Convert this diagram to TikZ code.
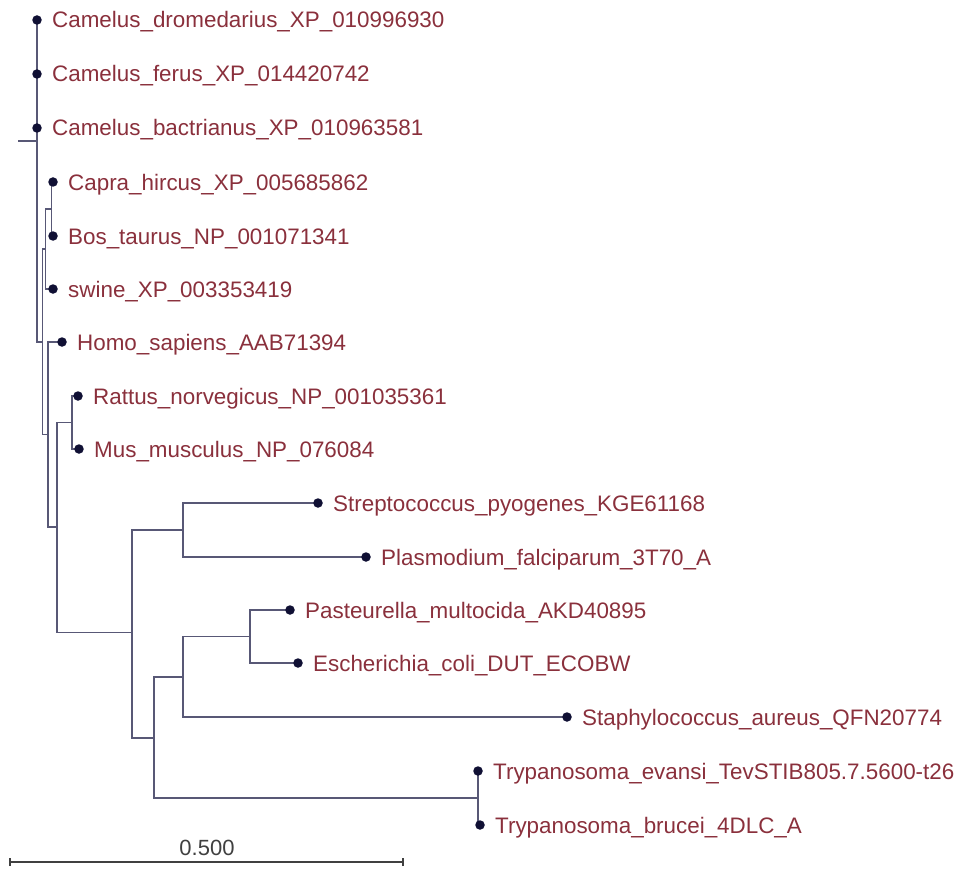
\documentclass[tikz,border=0pt]{standalone}
\usepackage{fontspec}
\setmainfont{Liberation Sans}
\definecolor{branch}{RGB}{88,88,118}
\definecolor{dotc}{RGB}{16,16,52}
\definecolor{lab}{RGB}{138,48,60}
\definecolor{scalec}{RGB}{64,64,64}
\tikzset{
  br/.style={draw=branch, line width=1.8pt},
  leaf/.style={circle, fill=dotc, inner sep=0pt, minimum size=9.5pt},
  lbl/.style={text=lab, anchor=base west, inner sep=0pt, font=\fontsize{22.4}{27}\selectfont},
}
\begin{document}
\begin{tikzpicture}[x=1pt,y=-1pt]
\useasboundingbox (0,0) rectangle (962,872);
% internal nodes
\coordinate (rootstub) at (18,141);
\coordinate (root) at (37,141);
\coordinate (Q) at (42.5,342);
\coordinate (S) at (45.5,249);
\coordinate (CB) at (51.5,209);
\coordinate (P48) at (48,434.5);
\coordinate (P57) at (57,527);
\coordinate (RM) at (72,422.5);
\coordinate (Bac) at (132,632.5);
\coordinate (SP) at (183,530);
\coordinate (N154) at (154,738);
\coordinate (N183) at (183,677);
\coordinate (PE) at (250,636.5);
\coordinate (Tr) at (478,798);
% leaves
\coordinate (l1) at (37,20);
\coordinate (l2) at (37,74);
\coordinate (l3) at (37,128);
\coordinate (l4) at (53,182);
\coordinate (l5) at (53,236);
\coordinate (l6) at (53,289);
\coordinate (l7) at (62,342);
\coordinate (l8) at (78,396);
\coordinate (l9) at (79,449);
\coordinate (l10) at (318,503);
\coordinate (l11) at (366,557);
\coordinate (l12) at (290,610);
\coordinate (l13) at (298,663);
\coordinate (l14) at (567,717);
\coordinate (l15) at (478,771);
\coordinate (l16) at (480,825);
% branches
\draw[br] (rootstub) -- (root);
\draw[br] (root) |- (l1);
\draw[br] (root) |- (Q);
\draw[br] (Q) |- (S);
\draw[br] (Q) |- (P48);
\draw[br] (S) |- (CB);
\draw[br] (S) |- (l6);
\draw[br] (CB) |- (l4);
\draw[br] (CB) |- (l5);
\draw[br] (P48) |- (l7);
\draw[br] (P48) |- (P57);
\draw[br] (P57) |- (RM);
\draw[br] (P57) |- (Bac);
\draw[br] (RM) |- (l8);
\draw[br] (RM) |- (l9);
\draw[br] (Bac) |- (SP);
\draw[br] (Bac) |- (N154);
\draw[br] (SP) |- (l10);
\draw[br] (SP) |- (l11);
\draw[br] (N154) |- (N183);
\draw[br] (N154) |- (Tr);
\draw[br] (N183) |- (PE);
\draw[br] (N183) |- (l14);
\draw[br] (PE) |- (l12);
\draw[br] (PE) |- (l13);
\draw[br] (Tr) |- (l15);
\draw[br] (Tr) |- (l16);
% dots and labels
\foreach \n/\t in {l1/Camelus\_dromedarius\_XP\_010996930, l2/Camelus\_ferus\_XP\_014420742, l3/Camelus\_bactrianus\_XP\_010963581, l4/Capra\_hircus\_XP\_005685862, l5/Bos\_taurus\_NP\_001071341, l6/swine\_XP\_003353419, l7/Homo\_sapiens\_AAB71394, l8/Rattus\_norvegicus\_NP\_001035361, l9/Mus\_musculus\_NP\_076084, l10/Streptococcus\_pyogenes\_KGE61168, l11/Plasmodium\_falciparum\_3T70\_A, l12/Pasteurella\_multocida\_AKD40895, l13/Escherichia\_coli\_DUT\_ECOBW, l14/Staphylococcus\_aureus\_QFN20774, l15/Trypanosoma\_evansi\_TevSTIB805.7.5600-t26, l16/Trypanosoma\_brucei\_4DLC\_A}{
  \node[leaf] (d\n) at (\n) {};
  \node[lbl] (t\n) at ([xshift=15pt,yshift=-8pt]\n) {\t};
}
% scale bar
\coordinate (sa) at (10,862);
\coordinate (sb) at (403,862);
\draw[draw=scalec, line width=1.8pt] (sa) -- (sb);
\draw[draw=scalec, line width=1.8pt] ([yshift=-4pt]sa) -- ([yshift=4pt]sa);
\draw[draw=scalec, line width=1.8pt] ([yshift=-4pt]sb) -- ([yshift=4pt]sb);
\node[text=scalec, anchor=base, inner sep=0pt, font=\fontsize{22}{26}\selectfont] (slab) at (207,855) {0.500};
\end{tikzpicture}
\end{document}
